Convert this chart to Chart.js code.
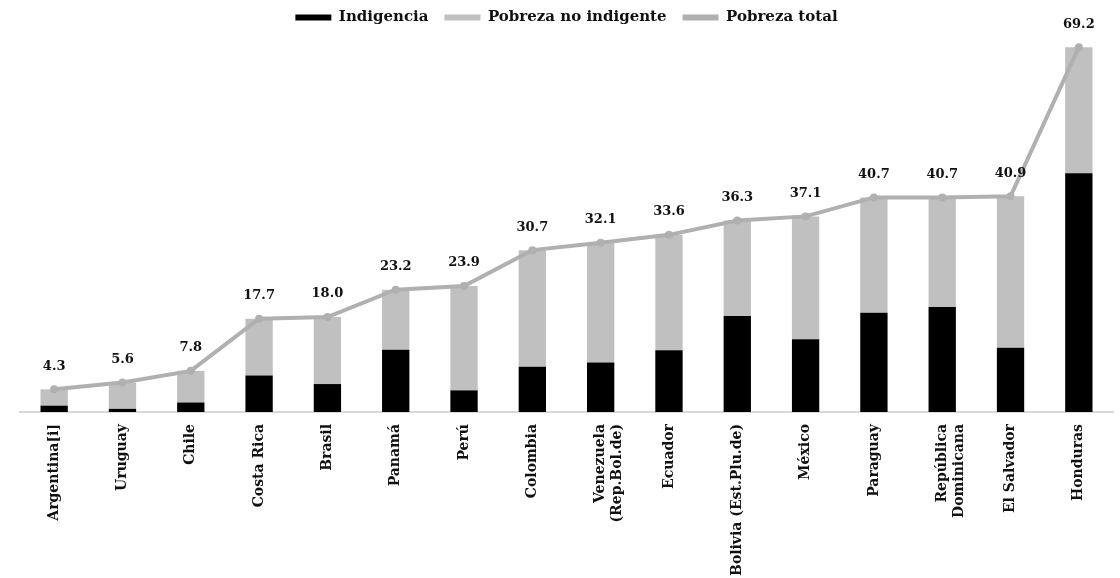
<!DOCTYPE html>
<html>
<head>
<meta charset="utf-8">
<script src="https://cdn.jsdelivr.net/npm/chart.js@4/dist/chart.umd.min.js"></script>
<style>
  html, body { margin: 0; padding: 0; background: #fff; }
  #wrap { width: 1120px; height: 578px; }
</style>
</head>
<body>
<div id="wrap"><canvas id="myChart" width="1120" height="578"></canvas></div>
<script>
const countries = [
  'Argentina[i]', 'Uruguay', 'Chile', 'Costa Rica', 'Brasil', 'Panamá', 'Perú', 'Colombia',
  ['Venezuela', '(Rep.Bol.de)'], 'Ecuador', 'Bolivia (Est.Plu.de)', 'México', 'Paraguay',
  ['República', 'Dominicana'], 'El Salvador', 'Honduras'
];
const pobrezaTotal = [4.3, 5.6, 7.8, 17.7, 18.0, 23.2, 23.9, 30.7, 32.1, 33.6, 36.3, 37.1, 40.7, 40.7, 40.9, 69.2];
const indigencia = [1.2, 0.6, 1.8, 6.9, 5.3, 11.8, 4.1, 8.6, 9.4, 11.7, 18.2, 13.8, 18.8, 19.9, 12.2, 45.3];
const noIndigente = pobrezaTotal.map((t, i) => +(t - indigencia[i]).toFixed(1));

const serif = "'DejaVu Serif', 'Liberation Serif', serif";

const valueLabels = {
  id: 'valueLabels',
  afterDatasetsDraw(chart) {
    const { ctx } = chart;
    const meta = chart.getDatasetMeta(2);
    ctx.save();
    ctx.font = 'bold 13px ' + serif;
    ctx.fillStyle = '#111';
    ctx.textAlign = 'center';
    ctx.textBaseline = 'middle';
    meta.data.forEach((pt, i) => {
      ctx.fillText(pobrezaTotal[i].toFixed(1), pt.x, pt.y - 23);
    });
    ctx.restore();
  }
};

const ctx = document.getElementById('myChart').getContext('2d');

new Chart(ctx, {
  type: 'bar',
  data: {
    labels: countries,
    datasets: [
      {
        label: 'Indigencia',
        data: indigencia,
        backgroundColor: '#000000',
        barPercentage: 0.4,
        categoryPercentage: 1,
        stack: 'pobreza',
        order: 1
      },
      {
        label: 'Pobreza no indigente',
        data: noIndigente,
        backgroundColor: '#c0c0c0',
        barPercentage: 0.4,
        categoryPercentage: 1,
        stack: 'pobreza',
        order: 1
      },
      {
        type: 'line',
        label: 'Pobreza total',
        data: pobrezaTotal,
        borderColor: '#b0b0b0',
        backgroundColor: '#b0b0b0',
        borderWidth: 4,
        pointRadius: 4,
        pointBackgroundColor: '#b0b0b0',
        pointBorderWidth: 0,
        tension: 0,
        stack: 'total',
        order: 0
      }
    ]
  },
  options: {
    responsive: false,
    animation: false,
    layout: { padding: { left: 20, right: 7, top: -6, bottom: 0 } },
    scales: {
      x: {
        stacked: true,
        grid: { display: false, drawTicks: false },
        border: { display: true, color: '#d9d9d9', width: 2 },
        ticks: {
          color: '#111',
          font: { family: serif, weight: 'bold', size: 14 },
          minRotation: 90,
          maxRotation: 90,
          autoSkip: false,
          padding: 12
        },
        afterFit(scale) { scale.height = 166; }
      },
      y: {
        stacked: true,
        display: false,
        min: 0,
        max: 71.5
      }
    },
    plugins: {
      legend: {
        position: 'top',
        labels: {
          color: '#111',
          font: { family: serif, weight: 'bold', size: 15 },
          boxWidth: 36,
          boxHeight: 6,
          padding: 16,
          sort: (a, b) => a.datasetIndex - b.datasetIndex,
          generateLabels(chart) {
            const items = Chart.defaults.plugins.legend.labels.generateLabels(chart);
            items.forEach(it => {
              if (it.datasetIndex === 2) { it.lineWidth = 0; }
            });
            return items;
          }
        }
      },
      tooltip: { enabled: false }
    }
  },
  plugins: [valueLabels]
});
</script>
</body>
</html>
